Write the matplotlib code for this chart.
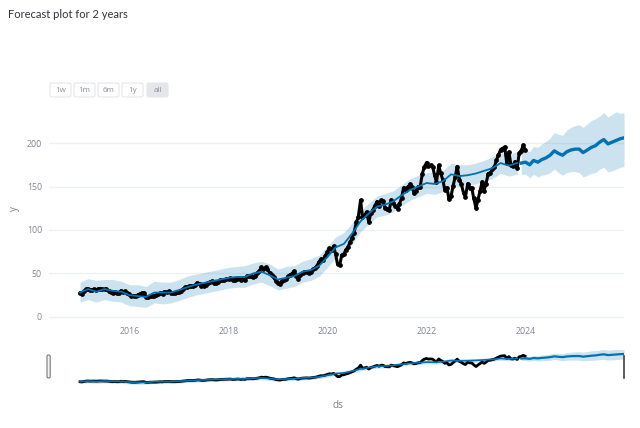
import matplotlib
matplotlib.use("Agg")
import matplotlib.pyplot as plt
import matplotlib.dates as mdates
from matplotlib.patches import FancyBboxPatch
from matplotlib.transforms import IdentityTransform
import pandas as pd

# observed closes, 1st and 15th of each month 2015-2023, plus last day
actual_dates = list(pd.date_range("2015-01-01", "2023-12-15", freq="SMS")) + [pd.Timestamp("2023-12-29")]
actual_y = [
    27.3, 26.5, 29.6, 31.7, 32.1, 31.0, 31.4, 31.8, 31.2, 32.1, 32.6, 31.9,
    31.6, 31.8, 30.2, 29.0, 27.6, 29.1, 27.4, 27.8, 30.3, 28.3, 29.4, 27.7,
    26.3, 24.3, 24.3, 23.9, 25.1, 26.2, 27.4, 27.8, 23.4, 22.7, 24.4, 24.3,
    23.9, 24.7, 26.1, 27.2, 26.7, 28.9, 28.3, 29.4, 27.9, 27.4, 27.5, 28.9,
    29.0, 30.0, 32.0, 33.9, 34.8, 35.1, 35.9, 35.3, 36.6, 39.0, 38.3, 36.1,
    36.0, 37.2, 39.4, 40.0, 41.0, 39.4, 38.5, 39.7, 42.0, 42.4, 42.8, 43.5,
    43.1, 44.5, 41.9, 43.0, 44.0, 44.8, 42.1, 43.9, 42.3, 46.5, 47.0, 47.3,
    46.3, 47.6, 50.4, 52.6, 57.0, 54.9, 56.9, 54.8, 50.4, 47.9, 46.0, 41.4,
    39.4, 38.1, 41.6, 42.6, 43.3, 46.5, 48.5, 49.9, 52.9, 47.3, 43.3, 48.5,
    50.7, 51.6, 52.1, 50.6, 52.2, 54.6, 56.1, 58.8, 63.7, 66.6, 66.0, 69.9,
    75.1, 78.8, 77.4, 81.2, 72.3, 60.6, 60.2, 71.1, 72.3, 76.9, 80.5, 85.7,
    91.0, 97.0, 108.9, 114.6, 134.2, 115.5, 116.8, 120.7, 108.8, 119.3, 122.9, 127.9,
    132.7, 127.1, 134.1, 133.2, 125.1, 123.9, 123.0, 134.5, 131.5, 127.5, 124.3, 129.6,
    137.3, 148.5, 145.5, 149.1, 152.5, 149.0, 142.7, 144.8, 149.8, 150.0, 164.8, 172.3,
    177.6, 173.1, 174.6, 172.8, 163.2, 155.1, 174.3, 165.3, 157.7, 146.5, 148.7, 135.4,
    138.9, 150.2, 161.5, 173.0, 158.0, 152.4, 142.5, 138.4, 153.3, 148.8, 148.3, 136.5,
    125.1, 134.8, 145.4, 155.3, 145.3, 152.6, 164.9, 165.6, 169.6, 172.1, 180.1, 186.0,
    192.5, 193.7, 195.6, 177.5, 189.5, 175.0, 173.8, 178.7, 170.8, 188.0, 191.2, 197.6,
    192.5,
]

# fitted values over the history, every second month
hist_dates = pd.date_range("2015-01-01", "2023-11-01", freq="2MS")
hist_yhat = [
    28, 32, 29, 32, 30, 29,
    25, 24, 23, 28, 28, 28,
    31, 34, 37, 39, 41, 43,
    45, 46, 46, 50, 52, 48,
    43, 45, 47, 52, 54, 59,
    69, 80, 84, 96, 110, 119,
    127, 129, 133, 140, 146, 150,
    154, 153, 156, 164, 162, 163,
    165, 168, 171, 177, 174, 177,
]
hist_upper = [
    40, 44, 42, 43, 43, 41,
    37, 37, 35, 41, 40, 40,
    43, 47, 49, 51, 53, 55,
    57, 58, 59, 62, 64, 61,
    55, 58, 59, 64, 67, 71,
    81, 92, 97, 108, 122, 131,
    139, 142, 145, 152, 159, 163,
    166, 166, 168, 177, 175, 175,
    177, 180, 184, 189, 187, 190,
]
hist_lower = [
    17, 20, 17, 20, 18, 17,
    13, 12, 11, 16, 15, 16,
    19, 22, 25, 27, 29, 31,
    33, 34, 34, 38, 40, 36,
    31, 33, 35, 40, 42, 47,
    57, 68, 72, 84, 98, 107,
    115, 117, 121, 128, 134, 138,
    142, 141, 144, 152, 150, 151,
    153, 156, 159, 165, 162, 164,
]

# 2 year forecast, monthly
fut_dates = list(pd.date_range("2023-12-01", "2025-12-01", freq="MS")) + [pd.Timestamp("2025-12-28")]
fut_yhat = [177, 178, 175, 180, 178, 181, 183, 186, 191, 188, 186, 190, 192,
            193, 193, 189, 192, 195, 197, 201, 204, 199, 201, 203, 205, 206]
fut_upper = [190, 192, 190, 196, 195, 199, 202, 206, 212, 210, 209, 215, 218,
             220, 221, 218, 222, 226, 228, 231, 235, 230, 233, 236, 234, 235]
fut_lower = [164, 164, 160, 164, 161, 163, 164, 166, 170, 166, 163, 166, 167,
             167, 166, 161, 163, 165, 166, 170, 172, 167, 168, 170, 172, 173]

tick_years = ["2016", "2018", "2020", "2022", "2024"]
y_ticks = [0, 50, 100, 150, 200]
buttons = ["1w", "1m", "6m", "1y", "all"]

BLUE = "#0072B2"
GRID = "#eef0f4"
TICK = "#808495"
FONT = ["Open Sans", "DejaVu Sans"]

W, H = 640, 428
fig = plt.figure(figsize=(W / 100, H / 100), dpi=100)
fig.patch.set_facecolor("white")


def box(x0, y0, x1, y1):
    # pixel box (top-left origin) -> figure fraction rect
    return [x0 / W, 1 - y1 / H, (x1 - x0) / W, (y1 - y0) / H]


xlim = (pd.Timestamp("2014-05-17"), pd.Timestamp("2025-12-28"))


def draw_series(ax, main=True):
    ax.fill_between(hist_dates, hist_lower, hist_upper, color=BLUE, alpha=0.2, lw=0)
    ax.fill_between(fut_dates, fut_lower, fut_upper, color=BLUE, alpha=0.2, lw=0)
    if main:
        ax.plot(actual_dates, actual_y, color="black", lw=2.2, marker="o", ms=2.4,
                solid_joinstyle="round", zorder=3)
        ax.plot(hist_dates, hist_yhat, color=BLUE, lw=1.3, zorder=4)
        ax.plot(fut_dates, fut_yhat, color=BLUE, lw=2.4, zorder=4)
    else:
        ax.plot(actual_dates, actual_y, color="black", lw=2.0, zorder=3)
        ax.plot(hist_dates, hist_yhat, color=BLUE, lw=1.2, zorder=4)
        ax.plot(fut_dates, fut_yhat, color=BLUE, lw=1.6, zorder=4)


ax = fig.add_axes(box(49, 110, 624, 323))
draw_series(ax)
ax.set_xlim(xlim)
ax.set_ylim(-7, 238)
ax.set_yticks(y_ticks)
ax.set_xticks([pd.Timestamp(y + "-01-01") for y in tick_years])
ax.xaxis.set_major_formatter(mdates.DateFormatter("%Y"))
ax.tick_params(length=0, labelsize=6.3, labelcolor=TICK)
ax.tick_params(axis="y", pad=5)
ax.tick_params(axis="x", pad=3)
for lab in ax.get_xticklabels() + ax.get_yticklabels():
    lab.set_family(FONT)
ax.grid(axis="y", color=GRID, lw=1)
ax.set_axisbelow(True)
for s in ax.spines.values():
    s.set_visible(False)

# range slider
sl = fig.add_axes(box(49, 345, 624, 395))
draw_series(sl, main=False)
sl.set_xlim(xlim)
sl.set_ylim(-58, 264)
sl.set_xticks([])
sl.set_yticks([])
for s in sl.spines.values():
    s.set_visible(False)

fig.add_artist(FancyBboxPatch((47, H - 378), 3.2, 23, boxstyle="round,pad=0,rounding_size=1.5",
                              transform=IdentityTransform(), fc="#f4f4f4", ec="#777777", lw=0.8))
fig.add_artist(FancyBboxPatch((622.5, H - 378), 1.2, 23, boxstyle="square,pad=0",
                              transform=IdentityTransform(), fc="#444444", ec="#444444", lw=0.5))

# range selector buttons
bx = [50, 74, 98, 122, 147]
for x0, lab in zip(bx, buttons):
    active = lab == "all"
    fig.add_artist(FancyBboxPatch((x0, H - 97), 21, 14, boxstyle="round,pad=0,rounding_size=2",
                                  transform=IdentityTransform(),
                                  fc="#e4e6ea" if active else "white",
                                  ec="#e4e6ea", lw=0.8))
    fig.text((x0 + 10.5) / W, 1 - 90 / H, lab, ha="center", va="center", fontsize=5.8,
             color="#8a8f9c", family=FONT)

fig.text(8 / W, 1 - 14 / H, "Forecast plot for 2 years", ha="left", va="center",
         fontsize=8, color="#31333F", family=["Lato", "DejaVu Sans"])
fig.text(14 / W, 1 - 209 / H, "y", ha="center", va="center", rotation=90,
         fontsize=7, color="#7a7f8e", family=FONT)
fig.text(338 / W, 1 - 406 / H, "ds", ha="center", va="center",
         fontsize=7.2, color="#7a7f8e", family=FONT)

fig.savefig("out.png", dpi=100)
